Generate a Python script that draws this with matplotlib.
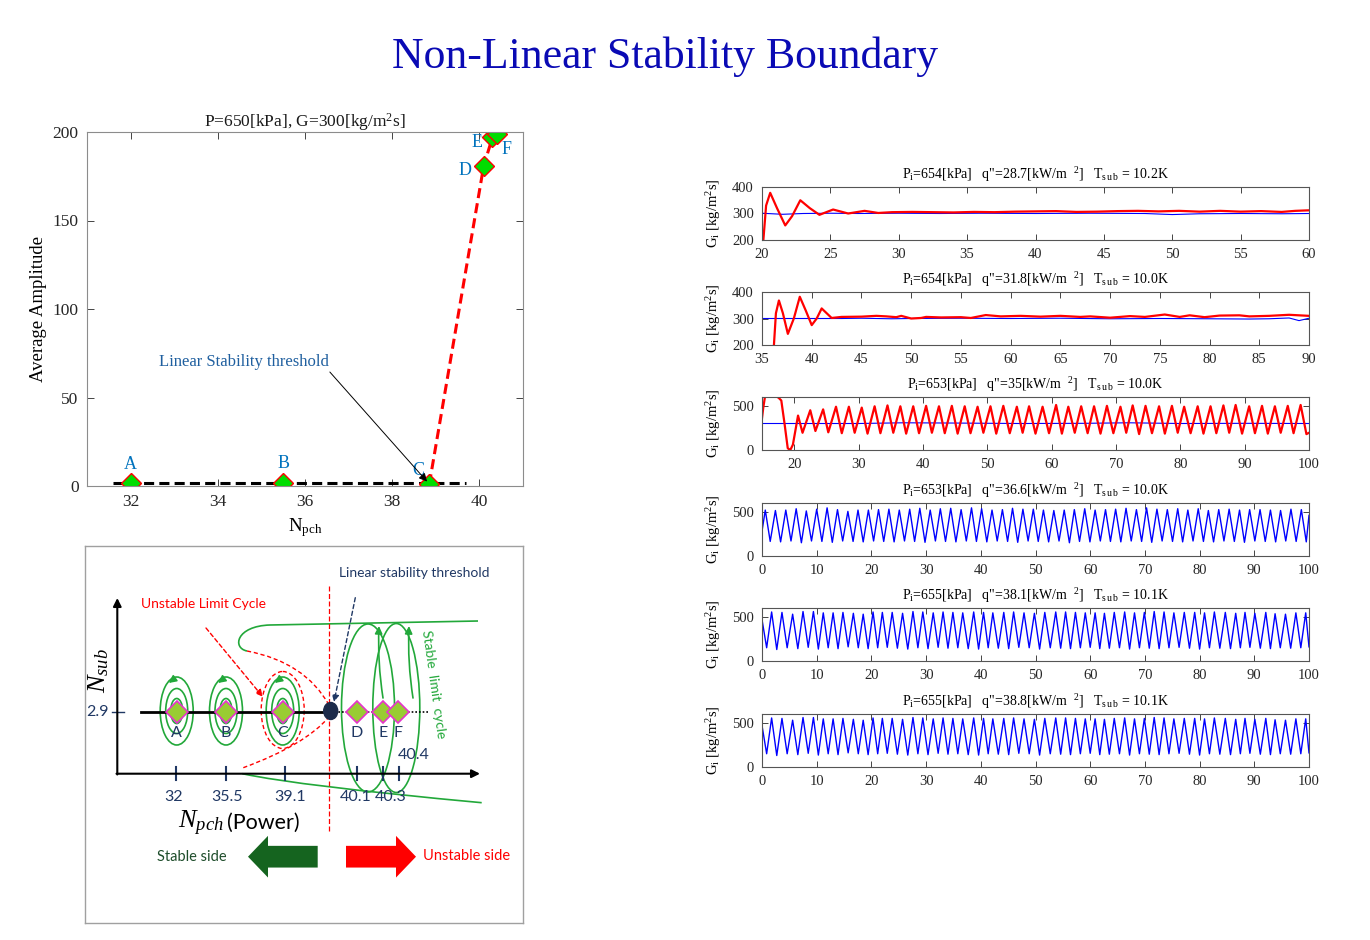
import numpy as np
import matplotlib
matplotlib.use("Agg")
import matplotlib.pyplot as plt
from matplotlib.patches import Ellipse, FancyArrow, PathPatch
from matplotlib.path import Path

plt.rcParams['font.family'] = ['Liberation Serif', 'DejaVu Serif']
plt.rcParams['mathtext.fontset'] = 'custom'
plt.rcParams['mathtext.rm'] = 'Liberation Serif'
plt.rcParams['mathtext.it'] = 'Liberation Serif:italic'
plt.rcParams['mathtext.bf'] = 'Liberation Serif:bold'

# ---------------- data: amplitude vs N_pch ----------------
point_names = ['A', 'B', 'C', 'D', 'E', 'F']
npch = [32.0, 35.5, 38.85, 40.1, 40.3, 40.4]
amplitude = [1.5, 1.5, 1.0, 181.0, 197.0, 199.0]
stable_x = [31.6, 39.7]
stable_y = [1.5, 1.5]

# ---------------- data: inlet mass flux traces ----------------
# q"=28.7
t1_red = [20.1, 20.3, 20.6, 21.1, 21.7, 22.2, 22.8, 23.5, 24.2, 25.2, 26.3, 27.5, 28.5,
          29.5, 31.0, 32.5, 34.0, 35.5, 37.0, 38.5, 40.0, 41.5, 43.0, 44.5, 46.0, 47.5,
          49.0, 50.5, 52.0, 53.5, 55.0, 56.5, 58.0, 59.0, 60.0]
g1_red = [200, 330, 378, 320, 255, 290, 350, 320, 295, 315, 300, 310, 302,
          305, 306, 305, 304, 306, 305, 307, 308, 309, 306, 307, 309, 310,
          308, 310, 307, 310, 307, 309, 306, 310, 312]
t1_blue = [20.0, 21.5, 23.0, 25.0, 27.0, 30.0, 33.0, 36.0, 40.0, 44.0, 48.0, 50.0,
           52.0, 55.0, 58.0, 60.0]
g1_blue = [301, 297, 300, 301, 300, 301, 300, 301, 300, 301, 300, 296, 299, 300, 299, 300]

# q"=31.8
t2_red = [36.2, 36.4, 36.7, 37.1, 37.6, 38.2, 38.8, 39.4, 40.0, 40.5, 41.0, 41.5, 42.0,
          43.0, 45.0, 46.5, 47.5, 48.5, 49.0, 50.0, 51.0, 51.5, 53.0, 55.0, 56.0, 57.5,
          59.0, 61.0, 63.0, 65.0, 67.0, 68.0, 70.0, 72.0, 73.5, 75.5, 77.0, 78.0, 79.5,
          81.0, 83.0, 84.0, 86.0, 88.0, 90.0]
g2_red = [200, 320, 368, 320, 242, 300, 382, 330, 275, 300, 338, 320, 302,
          306, 307, 310, 308, 305, 310, 300, 302, 306, 304, 305, 302, 313,
          308, 310, 307, 310, 306, 308, 303, 309, 306, 315, 306, 312, 305,
          311, 312, 308, 310, 314, 310]
t2_blue = [35.0, 40.0, 43.0, 45.0, 48.0, 50.0, 55.0, 60.0, 65.0, 70.0, 75.0, 80.0,
           84.0, 86.0, 88.0, 89.0, 90.0]
g2_blue = [300, 300, 300, 301, 299, 300, 301, 300, 301, 299, 300, 299, 298, 299, 302, 292, 301]

# q"=35  (start-up transient, then extremes of the oscillation)
t3_start = [15.0, 15.2, 15.5, 17.0, 17.6, 18.0, 18.5, 19.0, 19.4, 19.8, 20.6, 21.3,
            22.5, 23.3, 24.5, 25.3]
g3_start = [360, 480, 620, 620, 590, 560, 300, 20, 0, 60, 390, 195, 450, 215, 460, 200]
t3_peak = [26.5, 28.5, 30.5, 32.5, 34.5, 36.5, 38.5, 40.5, 42.5, 44.5,
           46.5, 48.5, 50.5, 52.5, 54.6, 56.5, 58.6, 60.7, 62.6, 64.6,
           66.6, 68.6, 70.7, 72.6, 74.6, 76.7, 78.7, 80.6, 82.7, 84.7,
           86.7, 88.6, 90.7, 92.7, 94.7, 96.7, 98.7]
g3_peak = [490, 490, 480, 495, 505, 495, 495, 500, 495, 500,
           495, 490, 495, 500, 490, 495, 490, 510, 490, 495,
           495, 500, 490, 505, 500, 495, 500, 490, 495, 495,
           505, 510, 495, 500, 495, 500, 510]
t3_trough = [27.4, 29.4, 31.4, 33.4, 35.4, 37.4, 39.4, 41.4, 43.4, 45.4,
             47.4, 49.4, 51.4, 53.5, 55.5, 57.5, 59.6, 61.6, 63.6, 65.6,
             67.6, 69.6, 71.6, 73.6, 75.6, 77.6, 79.6, 81.6, 83.6, 85.6,
             87.6, 89.6, 91.6, 93.6, 95.6, 97.6, 99.6, 100.0]
g3_trough = [190, 195, 185, 190, 195, 185, 190, 195, 190, 185,
             190, 195, 185, 190, 195, 185, 190, 185, 195, 190,
             185, 190, 195, 180, 190, 185, 195, 190, 185, 190,
             195, 185, 190, 185, 195, 190, 180, 195]
t3_blue = [15.0, 30.0, 37.0, 45.0, 55.0, 65.0, 72.0, 80.0, 90.0, 100.0]
g3_blue = [300, 300, 308, 305, 300, 302, 308, 300, 302, 300]

# q"=36.6
t4_peak = [0.6, 2.45, 4.35, 6.25, 8.1, 10.0, 11.9, 13.8, 15.7, 17.55,
           19.45, 21.3, 23.2, 25.1, 27.0, 28.85, 30.75, 32.6, 34.5, 36.4,
           38.3, 40.15, 42.05, 43.95, 45.8, 47.7, 49.6, 51.45, 53.35, 55.25,
           57.1, 59.0, 60.9, 62.8, 64.65, 66.55, 68.45, 70.3, 72.2, 74.1,
           76.0, 77.85, 79.75, 81.6, 83.5, 85.4, 87.3, 89.15, 91.05, 92.95,
           94.8, 96.7, 98.6]
g4_peak = [520, 515, 520, 535, 510, 530, 545, 525, 505, 520,
           520, 525, 530, 520, 530, 540, 520, 535, 540, 525,
           545, 535, 520, 525, 540, 530, 530, 520, 515, 520,
           525, 535, 520, 525, 530, 540, 525, 545, 530, 525,
           535, 520, 535, 515, 525, 530, 520, 525, 525, 520,
           515, 530, 525]
t4_trough = [0.0, 1.5, 3.4, 5.3, 7.2, 9.05, 10.95, 12.85, 14.75, 16.65, 18.5,
             20.4, 22.25, 24.15, 26.05, 27.9, 29.8, 31.7, 33.55, 35.45, 37.35,
             39.2, 41.1, 43.0, 44.9, 46.75, 48.65, 50.5, 52.4, 54.3, 56.2,
             58.05, 59.95, 61.85, 63.7, 65.6, 67.5, 69.4, 71.25, 73.15, 75.05,
             76.9, 78.8, 80.7, 82.55, 84.45, 86.35, 88.2, 90.1, 92.0, 93.9,
             95.75, 97.65, 99.5, 100.0]
g4_trough = [280, 165, 160, 170, 150, 170, 165, 155, 170, 165, 160,
             170, 165, 160, 170, 165, 155, 170, 165, 160, 170,
             165, 160, 170, 165, 155, 170, 165, 160, 170, 150,
             165, 160, 170, 165, 160, 170, 165, 155, 170, 165,
             160, 170, 165, 160, 170, 165, 155, 170, 165, 160,
             170, 165, 160, 460]

# q"=38.1 (the q"=38.8 trace reads the same on the picture)
t5_peak = [0.0, 1.76, 3.65, 5.6, 7.5, 9.4, 11.2, 13.0, 14.8, 16.7, 18.5,
           20.3, 22.0, 23.8, 25.7, 27.6, 29.4, 31.3, 33.1, 34.9, 36.7,
           38.7, 40.5, 42.2, 44.2, 46.0, 47.9, 49.8, 51.7, 53.7, 55.5,
           57.3, 59.1, 60.9, 62.6, 64.4, 66.3, 68.1, 69.9, 71.7, 73.5,
           75.3, 77.2, 79.1, 80.9, 82.7, 84.7, 86.6, 88.3, 90.1, 92.1,
           93.8, 95.7, 97.6, 99.4]
g5_peak = [470, 555, 550, 530, 560, 560, 545, 545, 550, 540, 530,
           555, 550, 550, 540, 560, 555, 545, 555, 550, 545,
           555, 550, 545, 550, 555, 545, 540, 550, 555, 555,
           550, 545, 545, 540, 550, 555, 545, 550, 560, 555,
           545, 550, 550, 545, 555, 550, 540, 550, 540, 550,
           535, 530, 545, 545]
t5_trough = [0.85, 2.7, 4.6, 6.55, 8.45, 10.3, 12.1, 13.9, 15.75, 17.6,
             19.4, 21.15, 22.9, 24.75, 26.65, 28.5, 30.35, 32.2, 34.0, 35.8,
             37.7, 39.6, 41.35, 43.2, 45.1, 46.95, 48.85, 50.75, 52.7, 54.6,
             56.4, 58.2, 60.0, 61.75, 63.5, 65.35, 67.2, 69.0, 70.8, 72.6,
             74.4, 76.25, 78.15, 80.0, 81.8, 83.7, 85.65, 87.45, 89.2, 91.1,
             92.95, 94.75, 96.65, 98.5, 100.0]
g5_trough = [150, 130, 150, 140, 155, 135, 150, 140, 160, 150,
             140, 150, 155, 145, 135, 150, 140, 155, 145, 150,
             140, 135, 150, 145, 140, 155, 150, 135, 150, 145,
             140, 150, 155, 140, 145, 150, 135, 150, 145, 140,
             150, 155, 145, 135, 150, 145, 140, 150, 155, 145,
             140, 150, 145, 150, 160]


def merge(*parts):
    t = np.concatenate([np.asarray(p[0], float) for p in parts])
    g = np.concatenate([np.asarray(p[1], float) for p in parts])
    o = np.argsort(t, kind='stable')
    return t[o], g[o]


fig = plt.figure(figsize=(13.7, 9.4), dpi=100)
fig.text(665 / 1370, 1 - 57 / 940, 'Non-Linear Stability Boundary', ha='center', va='center',
         fontsize=31.5, color='#0a0ab4')

# ---------------- top left: amplitude ----------------
ax = fig.add_axes([87 / 1370, 1 - 486 / 940, 436 / 1370, 354 / 940])
ax.plot(stable_x, stable_y, color='k', lw=2.2, ls=(0, (3.3, 1.7)))
ax.plot(npch[2:], amplitude[2:], color='red', lw=2.2, ls=(0, (3.3, 1.7)))
ax.plot(npch, amplitude, 'D', ms=10.5, mfc='#00dd00', mec='red', mew=1)
lab_pos = [(32.0, 12), (35.5, 12.5), (38.6, 9), (39.68, 178), (39.95, 194), (40.62, 190)]
for name, (lx, ly) in zip(point_names, lab_pos):
    ax.text(lx, ly, name, ha='center', va='center', fontsize=13, color='#0072BD')
ax.text(34.6, 70, 'Linear Stability threshold', ha='center', va='center', fontsize=12,
        color='#1f5f9f')
ax.annotate('', xy=(npch[2] - 0.05, amplitude[2] + 1.5), xytext=(36.57, 64.4),
            arrowprops=dict(arrowstyle='-|>', color='k', lw=0.7, mutation_scale=12,
                            shrinkA=0, shrinkB=0))
ax.set_xlim(31, 41)
ax.set_ylim(0, 200)
ax.set_xticks([32, 34, 36, 38, 40])
ax.set_yticks([0, 50, 100, 150, 200])
ax.tick_params(direction='in', top=True, right=True, length=5, width=0.6,
               colors='#262626', labelsize=12.5, pad=6)
for s in ax.spines.values():
    s.set_color('#8c8c8c')
    s.set_linewidth(0.8)
ax.set_title('P=650[kPa], G=300[kg/m$^2$s]', fontsize=12.5, pad=4, color='#1a1a1a')
ax.set_xlabel('N$_{\\rm pch}$', fontsize=13.5, labelpad=4)
ax.set_ylabel('Average Amplitude', fontsize=13.5, labelpad=4)

# ---------------- right: time traces ----------------
titles = [
    'P$_{\\rm i}$=654[kPa]   q"=28.7[kW/m  $^{2}$]   T$_{\\rm s\\,u\\,b}$ = 10.2K',
    'P$_{\\rm i}$=654[kPa]   q"=31.8[kW/m  $^{2}$]   T$_{\\rm s\\,u\\,b}$ = 10.0K',
    'P$_{\\rm i}$=653[kPa]   q"=35[kW/m  $^{2}$]   T$_{\\rm s\\,u\\,b}$ = 10.0K',
    'P$_{\\rm i}$=653[kPa]   q"=36.6[kW/m  $^{2}$]   T$_{\\rm s\\,u\\,b}$ = 10.0K',
    'P$_{\\rm i}$=655[kPa]   q"=38.1[kW/m  $^{2}$]   T$_{\\rm s\\,u\\,b}$ = 10.1K',
    'P$_{\\rm i}$=655[kPa]   q"=38.8[kW/m  $^{2}$]   T$_{\\rm s\\,u\\,b}$ = 10.1K',
]
red_traces = [(t1_red, g1_red), (t2_red, g2_red),
              merge((t3_start, g3_start), (t3_peak, g3_peak), (t3_trough, g3_trough)),
              None, None, None]
blue_traces = [(t1_blue, g1_blue), (t2_blue, g2_blue), (t3_blue, g3_blue),
               merge((t4_peak, g4_peak), (t4_trough, g4_trough)),
               merge((t5_peak, g5_peak), (t5_trough, g5_trough)),
               merge((t5_peak, g5_peak), (t5_trough, g5_trough))]
xlims = [(20, 60), (35, 90), (15, 100), (0, 100), (0, 100), (0, 100)]
xticks = [range(20, 61, 5), range(35, 91, 5), range(20, 101, 10),
          range(0, 101, 10), range(0, 101, 10), range(0, 101, 10)]
ylims = [(200, 400), (200, 400), (0, 600), (0, 600), (0, 600), (0, 600)]
yticks = [[200, 300, 400], [200, 300, 400], [0, 500], [0, 500], [0, 500], [0, 500]]
tops = [187, 292, 397, 503, 608, 714]

for i in range(6):
    a = fig.add_axes([762 / 1370, 1 - (tops[i] + 53) / 940, 547 / 1370, 53 / 940])
    tb, gb = blue_traces[i]
    a.plot(tb, gb, color='#0000ff', lw=0.8 if i < 3 else 1.0)
    if red_traces[i] is not None:
        tr, gr = red_traces[i]
        a.plot(tr, gr, color='#ff0000', lw=1.6)
    a.set_xlim(*xlims[i])
    a.set_ylim(*ylims[i])
    a.set_xticks(list(xticks[i]))
    a.set_yticks(yticks[i])
    a.tick_params(direction='in', top=True, right=True, length=4, width=0.6,
                  colors='#262626', labelsize=10.5, pad=6)
    for s in a.spines.values():
        s.set_color('#555555')
        s.set_linewidth(0.8)
    a.set_title(titles[i], fontsize=10, pad=6)
    a.set_ylabel('G$_{\\rm i}$ [kg/m$^2$s]', fontsize=10.5, labelpad=6)

# ---------------- bottom left: schematic ----------------
navy = '#203864'
green = '#22a83a'
sans = 'Lato'
diag_x = [176.7, 226.0, 282.7, 357.0, 383.3, 398.3]   # layout positions of A..F
diag_ticks = ['32', '35.5', '39.1', '40.1', '40.3', '40.4']

bx = fig.add_axes([85 / 1370, 1 - 923 / 940, 438 / 1370, 377 / 940])
bx.set_xlim(85, 523)
bx.set_ylim(923, 546)
bx.set_xticks([])
bx.set_yticks([])
for s in bx.spines.values():
    s.set_color('#a0a0a0')
    s.set_linewidth(1)

ap = dict(arrowstyle='-|>', color='k', lw=1.5, mutation_scale=12, shrinkA=0, shrinkB=0)
bx.annotate('', xy=(117.3, 598), xytext=(117.3, 774.5), arrowprops=ap)
bx.annotate('', xy=(480, 773.7), xytext=(116.5, 773.7), arrowprops=ap)
bx.text(99, 671, '$N_{sub}$', rotation=90, ha='center', va='center', fontsize=19)
bx.plot([112, 124], [711.7, 711.7], color=navy, lw=1)
bx.text(109, 711.7, '2.9', ha='right', va='center', color=navy, fontsize=11.5, family=sans)

# limit cycle branches
top_branch = Path([(478, 621), (270, 625), (236, 626), (232, 648), (247, 651)],
                  [Path.MOVETO, Path.LINETO, Path.CURVE4, Path.CURVE4, Path.CURVE4])
bot_branch = Path([(242.3, 773.7), (300, 786), (481.7, 802.7)],
                  [Path.MOVETO, Path.CURVE3, Path.CURVE3])
bx.add_patch(PathPatch(top_branch, fill=False, ec=green, lw=1.2))
bx.add_patch(PathPatch(bot_branch, fill=False, ec=green, lw=1.2))
red_top = Path([(247, 651), (305, 662), (329, 705)], [Path.MOVETO, Path.CURVE3, Path.CURVE3])
red_bot = Path([(243.3, 767.7), (305, 745), (329, 717)], [Path.MOVETO, Path.CURVE3, Path.CURVE3])
bx.add_patch(PathPatch(red_top, fill=False, ec='red', lw=1, ls=(0, (3, 2))))
bx.add_patch(PathPatch(red_bot, fill=False, ec='red', lw=1, ls=(0, (3, 2))))

# spirals around A, B, C
for cx in diag_x[:3]:
    for w, h in [(33, 68), (22, 45), (12, 25)]:
        bx.add_patch(Ellipse((cx, 711), w, h, fill=False, ec=green, lw=1.2))
    bx.annotate('', xy=(cx - 8, 683), xytext=(cx - 2, 678.5),
                arrowprops=dict(arrowstyle='-|>', color=green, lw=1.2, mutation_scale=11,
                                shrinkA=0, shrinkB=0))
bx.add_patch(Ellipse((282.7, 710), 43, 77, fill=False, ec='red', lw=1, ls=(0, (3, 2))))

# stable limit cycles
bx.add_patch(Ellipse((368, 708), 53, 168, fill=False, ec=green, lw=1.2))
bx.add_patch(Ellipse((396.3, 708), 47, 169, fill=False, ec=green, lw=1.2))
for x0, x1 in [(383, 379), (413, 409)]:
    bx.annotate('', xy=(x1, 626), xytext=(x0, 698),
                arrowprops=dict(arrowstyle='-|>', color=green, lw=1.2, mutation_scale=11,
                                shrinkA=0, shrinkB=0, connectionstyle='arc3,rad=-0.05'))
bx.text(434, 684, 'Stable  limit  cycle', rotation=-82, ha='center', va='center',
        color=green, fontsize=10, family=sans)

# N_pch line, points, threshold
bx.plot([141, 330.7], [711.7, 711.7], color='k', lw=2)
bx.plot([330.7, 430], [711.7, 711.7], color='k', lw=1.2, ls=(0, (1, 1.2)))
bx.plot([329.3, 329.3], [585.7, 831.7], color='red', lw=0.9, ls=(0, (4, 2)))
bx.add_patch(Ellipse((330.7, 711), 14, 17, color='#1c2b4a', zorder=5))
bx.plot(diag_x, [711.7] * 6, 'D', ms=11, mfc='#99cc33', mec='#e633cc', mew=1.2, zorder=6)
for name, x in zip(point_names, diag_x):
    bx.text(x, 733, name, ha='center', va='center', color=navy, fontsize=11.5, family=sans)
for x in [176, 226, 284.7, 356.7, 382.7, 399]:
    bx.plot([x, x], [766.7, 780], color=navy, lw=1.5)
tick_lab_pos = [(174, 797), (227, 797), (290.5, 797), (356, 797), (391, 797), (413.5, 755)]
for lab, (x, y) in zip(diag_ticks, tick_lab_pos):
    bx.text(x, y, lab, ha='center', va='center', color=navy, fontsize=11.5, family=sans)

bx.text(224, 823, '$N_{pch}$', ha='right', va='center', fontsize=19)
bx.text(227, 823, '(Power)', ha='left', va='center', fontsize=15.5, family=sans)

bx.text(339, 573, 'Linear stability threshold', ha='left', va='center', color=navy,
        fontsize=10, family=sans)
bx.annotate('', xy=(334, 702), xytext=(355.3, 597.7),
            arrowprops=dict(arrowstyle='-|>', color=navy, lw=1, ls=(0, (3, 2)),
                            mutation_scale=10, shrinkA=0, shrinkB=0))
bx.text(141, 604, 'Unstable Limit Cycle', ha='left', va='center', color='red',
        fontsize=10, family=sans)
bx.annotate('', xy=(262.7, 696.7), xytext=(206, 628),
            arrowprops=dict(arrowstyle='-|>', color='red', lw=1, ls=(0, (3, 2)),
                            mutation_scale=10, shrinkA=0, shrinkB=0))

# stable / unstable side arrows
bx.add_patch(FancyArrow(317.7, 856.7, -69.7, 0, width=21.7, head_width=41.7, head_length=20,
                        length_includes_head=True, color='#15641f', lw=0))
bx.add_patch(FancyArrow(346, 856.7, 70, 0, width=21.7, head_width=41.7, head_length=20,
                        length_includes_head=True, color='#ff0000', lw=0))
bx.text(191.7, 856.7, 'Stable side', ha='center', va='center', color='#1e4d2b',
        fontsize=10.5, family=sans)
bx.text(466.7, 856, 'Unstable side', ha='center', va='center', color='red',
        fontsize=10.5, family=sans)

fig.savefig('out.png', dpi=100, facecolor='white')
